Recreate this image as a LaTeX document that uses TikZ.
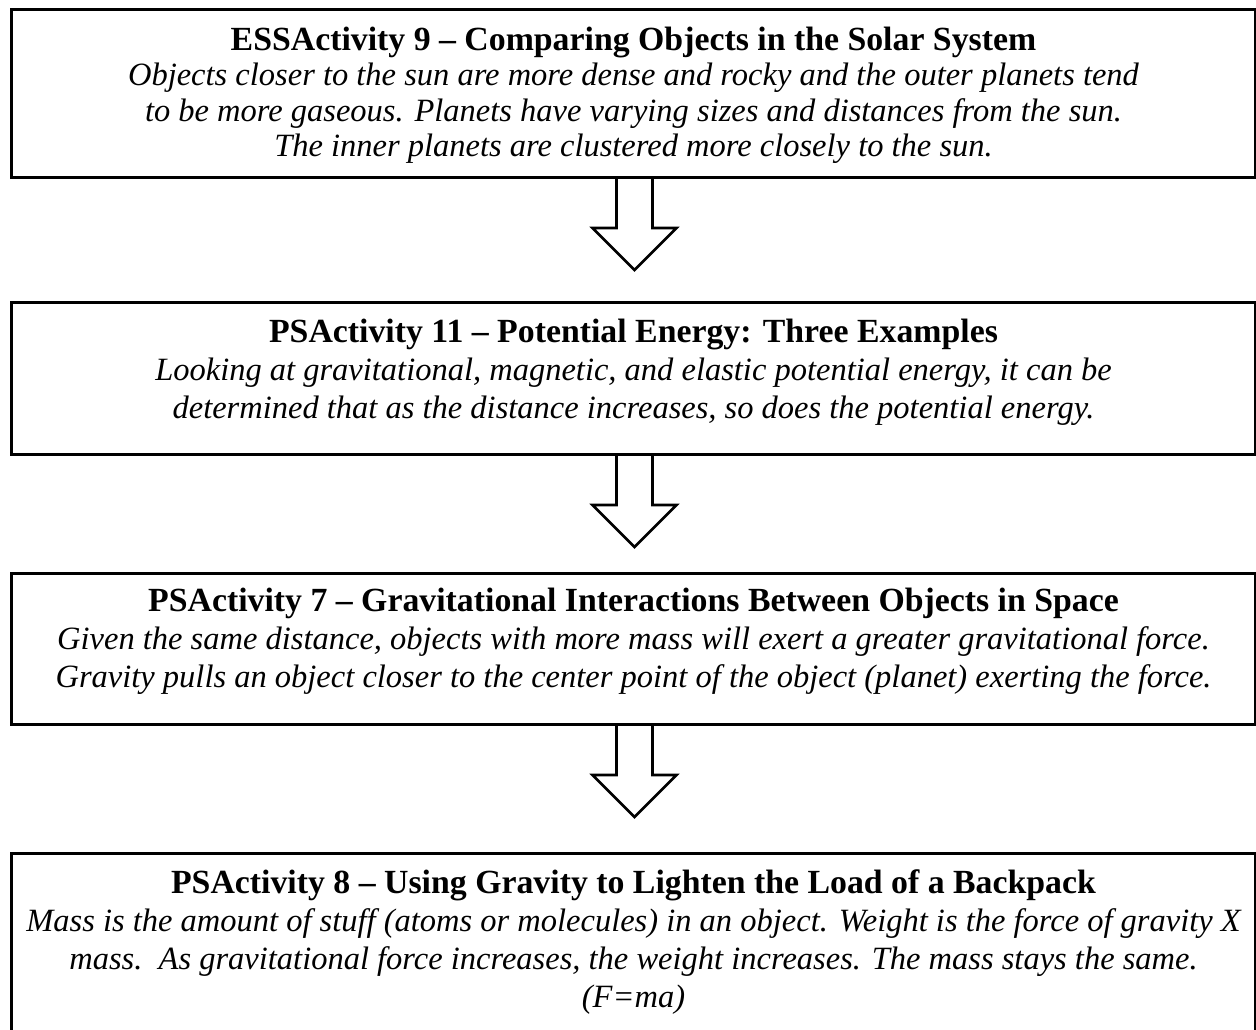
\documentclass[tikz,border=0pt]{standalone}
\usepackage{fontspec}
\setmainfont{Liberation Serif}
\usetikzlibrary{calc}
\tikzset{
  box/.style={draw=black, line width=3pt, fill=white, anchor=north west, inner sep=0pt, minimum width=1244pt},
  txt/.style={align=center, inner sep=0pt, anchor=base, font=\fontsize{32.5}{38}\selectfont},
  blockarrow/.style={draw=black, line width=2.6pt, line join=miter}
}
\newcommand{\ttl}[1]{{\fontsize{33.8}{38}\selectfont\bfseries #1}}
\begin{document}
\begin{tikzpicture}[x=1pt,y=-1pt]
\clip (0,0) rectangle (1256,1030);
\fill[white] (0,0) rectangle (1256,1030);
% boxes
\node[box, minimum height=168pt] (b1) at (10,8) {};
\node[box, minimum height=152pt] (b2) at (10,301) {};
\node[box, minimum height=151pt] (b3) at (10,572) {};
\node[box, minimum height=200pt] (b4) at (10,852) {};
% texts (anchored at the baseline of the last line)
\node[txt, font=\fontsize{32.5}{35.5}\selectfont] (t1) at ($(b1.north)+(0,149)$) {\ttl{ESSActivity 9 – Comparing Objects in the Solar System}\\
\itshape Objects closer to the sun are more dense and rocky and the outer planets tend\\
\itshape to be more gaseous. Planets have varying sizes and distances from the sun.\\
\itshape The inner planets are clustered more closely to the sun.};
\node[txt] (t2) at ($(b2.north)+(0,117)$) {\ttl{PSActivity 11 – Potential Energy: Three Examples}\\
\itshape Looking at gravitational, magnetic, and elastic potential energy, it can be\\
\itshape determined that as the distance increases, so does the potential energy.};
\node[txt] (t3) at ($(b3.north)+(0,115)$) {\ttl{PSActivity 7 – Gravitational Interactions Between Objects in Space}\\
\itshape Given the same distance, objects with more mass will exert a greater gravitational force.\\
\itshape Gravity pulls an object closer to the center point of the object (planet) exerting the force.};
\node[txt] (t4) at ($(b4.north)+(0,155)$) {\ttl{PSActivity 8 – Using Gravity to Lighten the Load of a Backpack}\\
\itshape Mass is the amount of stuff (atoms or molecules) in an object. Weight is the force of gravity X\\
\itshape mass.\ \ As gravitational force increases, the weight increases. The mass stays the same.\\
\itshape (F=ma)};
% block arrows
\foreach \b in {b1,b2,b3}{
  \draw[blockarrow] ($(\b.south)+(-17,0)$) -- ++(0,49) -- ++(-24,0)
     -- ($(\b.south)+(1,91)$) -- ($(\b.south)+(43,49)$) -- ++(-24,0) -- ($(\b.south)+(19,0)$);
}
\end{tikzpicture}
\end{document}
